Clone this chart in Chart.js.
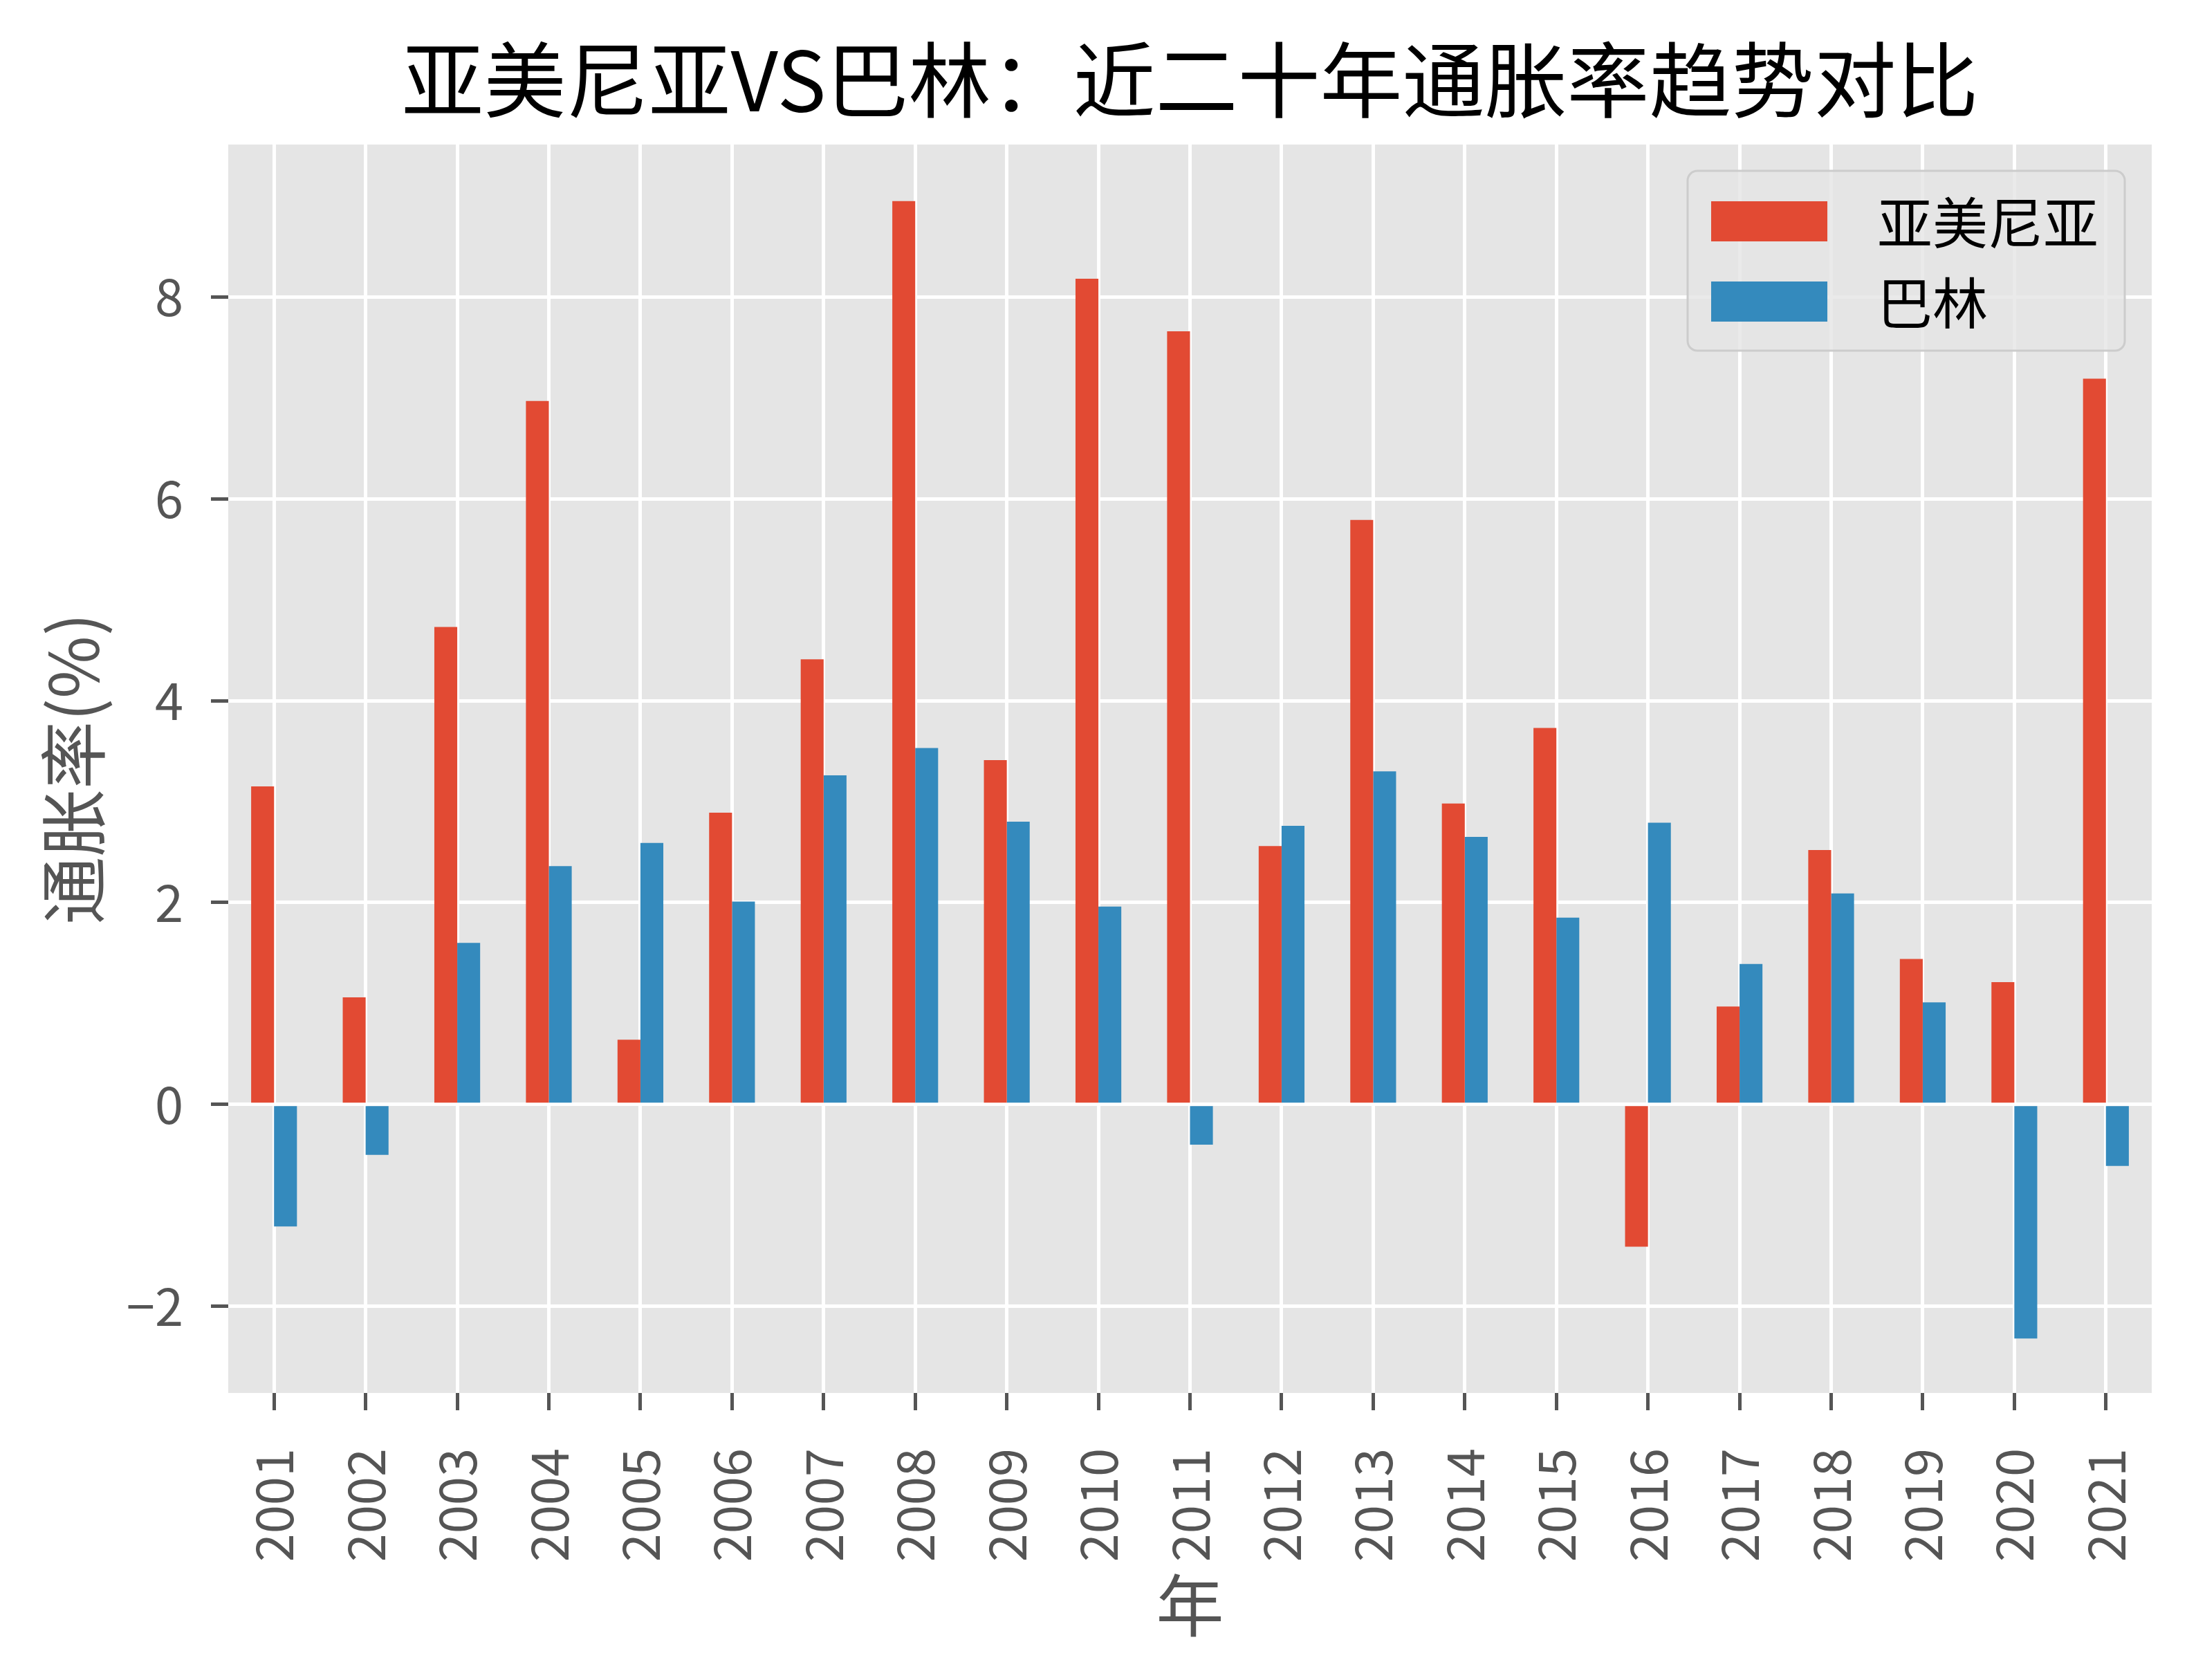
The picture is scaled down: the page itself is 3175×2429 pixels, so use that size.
<!DOCTYPE html>
<html>
<head>
<meta charset="utf-8">
<script src="https://cdn.jsdelivr.net/npm/chart.js@4/dist/chart.umd.min.js"></script>
<style>
  html, body { margin: 0; padding: 0; background: #fff; }
  #wrap { width: 3175px; height: 2429px; }
</style>
</head>
<body>
<div id="wrap"><canvas id="c" width="3175" height="2429"></canvas></div>
<script>
/* Armenia vs Bahrain inflation, 2001-2021 — grouped bars, ggplot look. */
const years = ["2001", "2002", "2003", "2004", "2005", "2006", "2007", "2008", "2009", "2010", "2011",
  "2012", "2013", "2014", "2015", "2016", "2017", "2018", "2019", "2020", "2021"];
const armenia = [3.15, 1.06, 4.73, 6.97, 0.64, 2.89, 4.41, 8.95, 3.41, 8.18, 7.66,
  2.56, 5.79, 2.98, 3.73, -1.41, 0.97, 2.52, 1.44, 1.21, 7.19];
const bahrain = [-1.21, -0.50, 1.60, 2.36, 2.59, 2.01, 3.26, 3.53, 2.80, 1.96, -0.40,
  2.76, 3.30, 2.65, 1.85, 2.79, 1.39, 2.09, 1.01, -2.32, -0.61];
const seriesNames = ["亚美尼亚", "巴林"];
const yTicks = [-2, 0, 2, 4, 6, 8];
const titleText = "亚美尼亚VS巴林：近二十年通胀率趋势对比";
const xTitle = "年";
const yTitle = "通胀率(%)";

const C = { red: "#E24A33", blue: "#348ABD", panel: "#E5E5E5", grid: "#FFFFFF", tick: "#555555" };
const FONT = "'Noto Sans CJK SC', 'Noto Sans', sans-serif";

// grey panel behind the plot
const panelBg = {
  id: "panelBg",
  beforeDraw(chart) {
    const { ctx, chartArea: a } = chart;
    ctx.save();
    ctx.fillStyle = C.panel;
    ctx.fillRect(a.left, a.top, a.right - a.left, a.bottom - a.top);
    ctx.restore();
  },
};

// title centred over the plot area, not the canvas
const plotTitle = {
  id: "plotTitle",
  afterDraw(chart) {
    const { ctx, chartArea: a } = chart;
    ctx.save();
    ctx.fillStyle = "#000";
    ctx.font = "119px " + FONT;
    ctx.textAlign = "center";
    ctx.textBaseline = "middle";
    ctx.fillText(titleText, (a.left + a.right) / 2, 116);
    ctx.restore();
  },
};

// matplotlib-style legend box in the upper right
const boxLegend = {
  id: "boxLegend",
  afterDatasetsDraw(chart) {
    const { ctx } = chart;
    const x = 2440, y = 247, w = 632, h = 260, r = 14;
    ctx.save();
    ctx.beginPath();
    ctx.roundRect(x, y, w, h, r);
    ctx.fillStyle = "rgba(229,229,229,0.8)";
    ctx.fill();
    ctx.lineWidth = 3;
    ctx.strokeStyle = "#CCCCCC";
    ctx.stroke();
    ctx.font = "80px " + FONT;
    ctx.textBaseline = "middle";
    ctx.textAlign = "left";
    chart.data.datasets.forEach((ds, i) => {
      const cy = 320 + i * 116;
      ctx.fillStyle = ds.backgroundColor;
      ctx.fillRect(2474, cy - 29, 168, 58);
      ctx.fillStyle = "#000";
      ctx.fillText(ds.label, 2714, cy + 2);
    });
    ctx.restore();
  },
};

new Chart(document.getElementById("c"), {
  type: "bar",
  data: {
    labels: years,
    datasets: [
      { label: seriesNames[0], data: armenia, backgroundColor: C.red, categoryPercentage: 0.5, barPercentage: 1.0, borderWidth: 0 },
      { label: seriesNames[1], data: bahrain, backgroundColor: C.blue, categoryPercentage: 0.5, barPercentage: 1.0, borderWidth: 0 },
    ],
  },
  options: {
    responsive: false,
    animation: false,
    devicePixelRatio: 1,
    layout: { padding: { top: 209, right: 64, left: 0, bottom: 0 } },
    plugins: { legend: { display: false }, title: { display: false }, tooltip: { enabled: false } },
    scales: {
      x: {
        offset: true,
        border: { display: false },
        grid: { offset: false, color: C.grid, lineWidth: 5, drawTicks: true, tickLength: 25, tickColor: C.tick, tickWidth: 5 },
        ticks: { color: C.tick, font: { family: FONT, size: 74 }, minRotation: 90, maxRotation: 90, padding: 55, autoSkip: false },
        title: { display: true, text: xTitle, color: C.tick, font: { family: FONT, size: 98 }, padding: { top: 0, bottom: 49 } },
        afterFit(s) { s.height = 415; s.paddingLeft = 0; s.paddingRight = 0; },
      },
      y: {
        min: -2.86,
        max: 9.51,
        border: { display: false },
        grid: { color: C.grid, lineWidth: 5, drawTicks: true, tickLength: 25, tickColor: C.tick, tickWidth: 5 },
        ticks: {
          color: C.tick, font: { family: FONT, size: 74 }, padding: 40,
          callback: (v) => (v < 0 ? "\u2212" + Math.abs(v) : String(v)),
        },
        afterBuildTicks(s) { s.ticks = yTicks.map((v) => ({ value: v })); },
        title: { display: true, text: yTitle, color: C.tick, font: { family: FONT, size: 98 }, padding: { top: 47, bottom: 0 } },
        afterFit(s) { s.width = 330; s.paddingTop = 0; s.paddingBottom = 0; },
      },
    },
  },
  plugins: [panelBg, plotTitle, boxLegend],
});
</script>
</body>
</html>
